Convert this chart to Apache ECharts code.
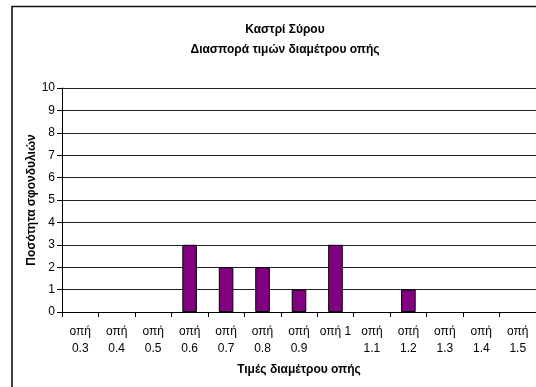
<!DOCTYPE html>
<html>
<head>
<meta charset="utf-8">
<script src="https://cdn.jsdelivr.net/npm/echarts@6/dist/echarts.min.js"></script>
<style>
html,body{margin:0;padding:0;background:#fff;}
#c{width:536px;height:387px;}
</style>
</head>
<body>
<div id="c"></div>
<script>
var titleText = "Καστρί Σύρου";
var subtitleText = "Διασπορά τιμών διαμέτρου οπής";
var xAxisTitle = "Τιμές διαμέτρου οπής";
var yAxisTitle = "Ποσότητα σφονδυλιών";
var categories = ["οπή 0.3","οπή 0.4","οπή 0.5","οπή 0.6","οπή 0.7","οπή 0.8","οπή 0.9","οπή 1","οπή 1.1","οπή 1.2","οπή 1.3","οπή 1.4","οπή 1.5"];
var counts = [0,0,0,3,2,2,1,3,0,1,0,0,0];
var yMin = 0, yMax = 10, yStep = 1;

var FONT = "'Liberation Sans', Arial, sans-serif";
var chart = echarts.init(document.getElementById('c'));
chart.setOption({
  animation: false,
  backgroundColor: '#fff',
  graphic: [{
    type: 'rect',
    shape: {x: 12, y: 6.5, width: 1000, height: 1000},
    style: {fill: 'none', stroke: '#111', lineWidth: 1.6},
    silent: true
  }],
  title: {
    text: titleText + "\n" + subtitleText,
    left: 280,
    top: 15,
    textAlign: 'center',
    textStyle: {fontFamily: FONT, fontSize: 12, fontWeight: 'bold', color: '#000', lineHeight: 20}
  },
  grid: {left: 62, top: 88, width: 478, height: 224, containLabel: false},
  xAxis: {
    type: 'category',
    data: categories,
    name: xAxisTitle,
    nameLocation: 'middle',
    nameGap: 52,
    nameMoveOverlap: false,
    nameTextStyle: {fontFamily: FONT, fontSize: 12, fontWeight: 'bold', color: '#000'},
    axisLine: {lineStyle: {color: '#000', width: 1}},
    axisTick: {show: true, length: 5, lineStyle: {color: '#000'}},
    axisLabel: {
      interval: 0,
      margin: 11,
      fontFamily: FONT, fontSize: 12, color: '#000', lineHeight: 17,
      formatter: function (v) { return v.length > 5 ? v.replace(' ', '\n') : v; }
    },
    splitLine: {show: false}
  },
  yAxis: {
    type: 'value',
    min: yMin, max: yMax, interval: yStep,
    name: yAxisTitle,
    nameLocation: 'middle',
    nameGap: 24,
    nameMoveOverlap: false,
    nameTextStyle: {fontFamily: FONT, fontSize: 12, fontWeight: 'bold', color: '#000'},
    axisLine: {show: true, lineStyle: {color: '#000', width: 1}},
    axisTick: {show: true, length: 5, lineStyle: {color: '#000'}},
    axisLabel: {margin: 7, fontFamily: FONT, fontSize: 12, color: '#000'},
    splitLine: {show: true, lineStyle: {color: '#222', width: 1}}
  },
  series: [{
    type: 'bar',
    data: counts.map(function (v) { return v === 0 ? null : v; }),
    barWidth: '40%',
    itemStyle: {color: '#800080', borderColor: '#000', borderWidth: 1}
  }]
});
</script>
</body>
</html>
